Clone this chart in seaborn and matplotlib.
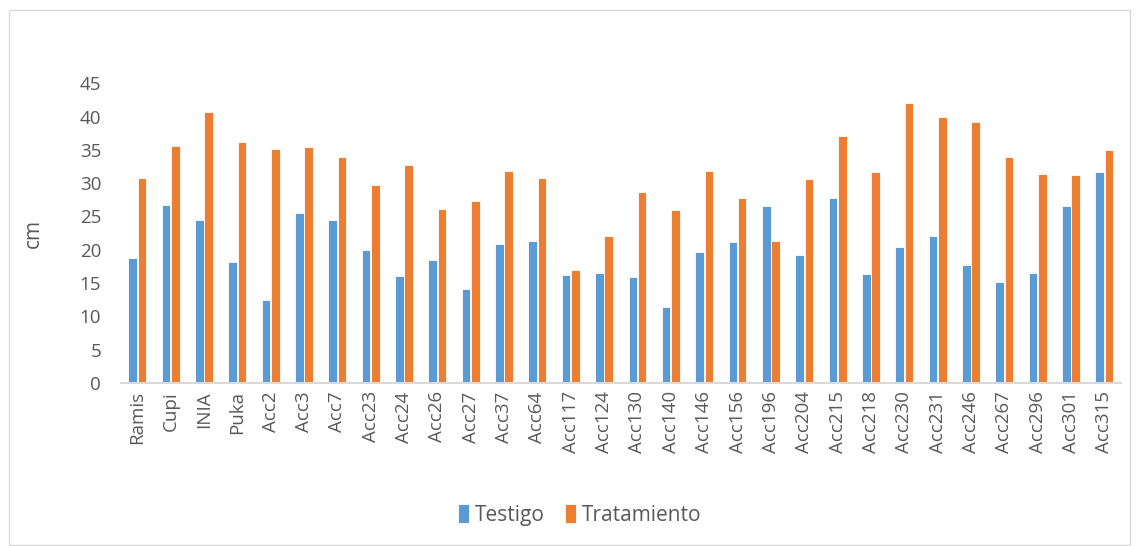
import pandas as pd
import matplotlib.pyplot as plt
import seaborn as sns
from matplotlib.patches import Rectangle

# Data (cm)
accesiones = ['Ramis', 'Cupi', 'INIA', 'Puka', 'Acc2', 'Acc3', 'Acc7', 'Acc23', 'Acc24',
              'Acc26', 'Acc27', 'Acc37', 'Acc64', 'Acc117', 'Acc124', 'Acc130', 'Acc140',
              'Acc146', 'Acc156', 'Acc196', 'Acc204', 'Acc215', 'Acc218', 'Acc230',
              'Acc231', 'Acc246', 'Acc267', 'Acc296', 'Acc301', 'Acc315']
testigo = [18.8, 26.7, 24.5, 18.1, 12.4, 25.5, 24.5, 20.0, 16.1,
           18.45, 14.15, 20.9, 21.35, 16.15, 16.55, 15.9, 11.45,
           19.7, 21.2, 26.6, 19.2, 27.8, 16.35, 20.45,
           22.1, 17.65, 15.2, 16.55, 26.6, 31.75]
tratamiento = [30.75, 35.6, 40.7, 36.2, 35.1, 35.4, 33.9, 29.8, 32.7,
               26.05, 27.35, 31.9, 30.85, 17.0, 22.1, 28.65, 25.95,
               31.8, 27.8, 21.25, 30.6, 37.05, 31.75, 42.05,
               39.9, 39.2, 33.95, 31.35, 31.25, 35.0]
series = ['Testigo', 'Tratamiento']
colors = ['#5B9BD5', '#ED7D31']

df = pd.DataFrame({'acc': accesiones * 2,
                   'valor': testigo + tratamiento,
                   'serie': [series[0]] * len(accesiones) + [series[1]] * len(accesiones)})

sns.set_style("white")
plt.rcParams['font.family'] = ['Open Sans', 'DejaVu Sans']

fig = plt.figure(figsize=(11.37, 5.46), dpi=100)
ax = fig.add_axes([0.106, 0.2985, 0.880, 0.549])

sns.barplot(data=df, x='acc', y='valor', hue='serie', palette=colors, saturation=1,
            width=0.56, gap=0.08, edgecolor='white', linewidth=0.6, ax=ax)

ax.set_ylim(0, 45)
ax.set_xlim(-0.5, len(accesiones) - 0.5)
ax.set_yticks(range(0, 46, 5))
ax.tick_params(axis='y', labelsize=13.5, labelcolor='#595959', length=0, pad=14)
ax.tick_params(axis='x', labelsize=13.5, labelcolor='#595959', length=0, pad=6, rotation=90)
ax.set_xlabel('')
ax.set_ylabel('cm', fontsize=15, color='#595959', labelpad=26)

for s in ['top', 'right', 'left']:
    ax.spines[s].set_visible(False)
ax.spines['bottom'].set_color('#D9D9D9')
ax.spines['bottom'].set_linewidth(1.5)

ax.legend_.remove()
handles, labels = ax.get_legend_handles_labels()
fig.legend(handles, labels, loc='center', bbox_to_anchor=(0.51, 0.057), ncol=2,
           frameon=False, fontsize=15, handlelength=0.5, handleheight=1.0,
           handletextpad=0.3, columnspacing=1.0, labelcolor='#595959')

# outer chart border
fig.patches.append(Rectangle((0.008, 0.002), 0.986, 0.98, transform=fig.transFigure,
                             fill=False, edgecolor='#D9D9D9', linewidth=1.0))

plt.savefig('out.png', dpi=100)
